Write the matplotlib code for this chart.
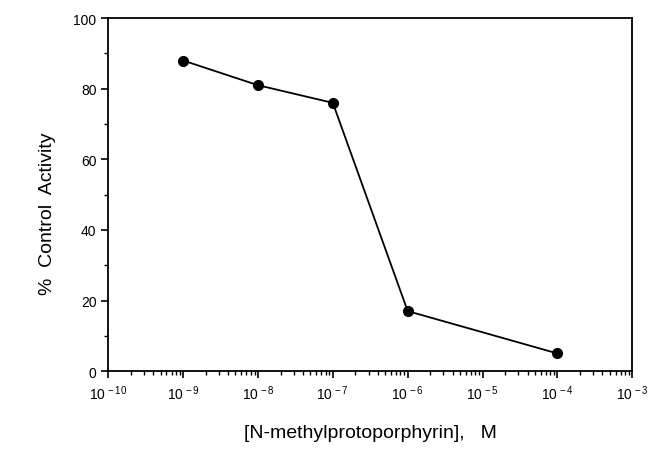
import numpy as np
import matplotlib
matplotlib.use('Agg')
import matplotlib.pyplot as plt
from matplotlib.ticker import LogLocator, FixedLocator, FuncFormatter

plt.rcParams['font.family'] = ['Liberation Sans', 'DejaVu Sans']
plt.rcParams['mathtext.fontset'] = 'custom'
plt.rcParams['mathtext.rm'] = 'Liberation Sans'
plt.rcParams['mathtext.it'] = 'Liberation Sans'

conc = [1e-9, 1e-8, 1e-7, 1e-6, 1e-4]
activity = [88, 81, 76, 17, 5]

fig = plt.figure(figsize=(6.6, 4.56), dpi=100)
ax = fig.add_axes([0.164, 0.184, 0.794, 0.774])

ax.plot(conc, activity, color='black', lw=1.3, marker='o', ms=7, mfc='black', mec='black')

ax.set_xscale('log')
ax.set_xlim(1e-10, 1e-3)
ax.set_ylim(0, 100)

ax.xaxis.set_major_locator(LogLocator(base=10, numticks=20))
ax.xaxis.set_minor_locator(LogLocator(base=10, subs=np.arange(2, 10), numticks=20))
ax.xaxis.set_major_formatter(FuncFormatter(lambda v, p: r'$10^{\,%d}$' % round(np.log10(v))))
ax.yaxis.set_major_locator(FixedLocator([0, 20, 40, 60, 80, 100]))
ax.yaxis.set_minor_locator(FixedLocator([10, 30, 50, 70, 90]))

ax.tick_params(which='major', direction='out', length=5, width=1.2, labelsize=10, colors='black')
ax.tick_params(which='minor', direction='out', length=3, width=1)
for s in ax.spines.values():
    s.set_linewidth(1.3)

ax.set_ylabel('%  Control  Activity', fontsize=14, labelpad=10)
ax.yaxis.set_label_coords(-0.1, 0.45)
ax.set_xlabel('[N-methylprotoporphyrin],   M', fontsize=14, labelpad=16)

fig.savefig('out.png', dpi=100)
